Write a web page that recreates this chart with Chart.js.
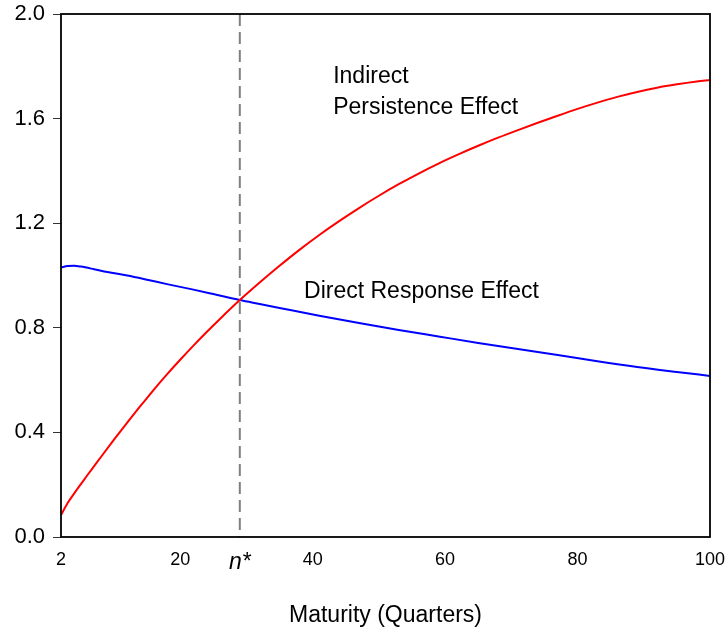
<!DOCTYPE html>
<html>
<head>
<meta charset="utf-8">
<script src="https://cdn.jsdelivr.net/npm/chart.js@4/dist/chart.umd.min.js"></script>
<style>
  html, body { margin: 0; padding: 0; background: #fff; }
  #wrap { width: 727px; height: 637px; }
</style>
</head>
<body>
<div id="wrap"><canvas id="effects-chart"></canvas></div>
<script>
// maturity (quarters) and the two effects
const redX = [2, 3, 4, 5, 6, 7, 8, 10, 12, 14, 16, 18, 20, 22, 24, 26, 29, 32, 35, 38, 41, 44, 47, 50, 53, 56, 59, 62, 65, 68, 71, 74, 77, 80, 83, 86, 89, 92, 95, 98, 100];
const indirectEffect = [0.084, 0.13, 0.167, 0.202, 0.237, 0.271, 0.305, 0.372, 0.437, 0.501, 0.563, 0.622, 0.678, 0.732, 0.784, 0.834, 0.906, 0.973, 1.037, 1.098, 1.155, 1.208, 1.258, 1.305, 1.349, 1.39, 1.428, 1.463, 1.496, 1.527, 1.556, 1.584, 1.611, 1.637, 1.661, 1.683, 1.702, 1.718, 1.731, 1.742, 1.748];
const blueX = [2, 3, 4, 5, 7, 9, 12, 15, 18, 22, 25, 29, 32, 35, 41, 47, 53, 59, 65, 71, 77, 83, 89, 95, 100];
const directEffect = [1.031, 1.036, 1.037, 1.034, 1.024, 1.013, 1.0, 0.984, 0.967, 0.946, 0.929, 0.906, 0.891, 0.876, 0.846, 0.818, 0.792, 0.767, 0.742, 0.719, 0.696, 0.672, 0.65, 0.631, 0.616];

const nStar = 29;
const xTicks = [2, 20, nStar, 40, 60, 80, 100];
const yTicks = [0.0, 0.4, 0.8, 1.2, 1.6, 2.0];

const labels = [
  { text: "Indirect", x: 43.1, y: 1.76 },
  { text: "Persistence Effect", x: 43.1, y: 1.64 },
  { text: "Direct Response Effect", x: 38.7, y: 0.94 },
];

const FONT = "'Liberation Sans', Arial, sans-serif";

function pts(xs, ys) {
  return xs.map((x, i) => ({ x: x, y: ys[i] }));
}

const framePlugin = {
  id: "frame",
  beforeDatasetsDraw(chart) {
    const { ctx, chartArea, scales } = chart;
    const px = scales.x.getPixelForValue(nStar);
    ctx.save();
    ctx.strokeStyle = "#808080";
    ctx.lineWidth = 2;
    ctx.setLineDash([12, 6]);
    ctx.beginPath();
    ctx.moveTo(px, chartArea.top);
    ctx.lineTo(px, chartArea.bottom);
    ctx.stroke();
    ctx.restore();
  },
  afterDatasetsDraw(chart) {
    const { ctx, chartArea, scales } = chart;
    ctx.save();
    ctx.strokeStyle = "#000";
    ctx.lineWidth = 1.8;
    ctx.strokeRect(chartArea.left, chartArea.top, chartArea.right - chartArea.left, chartArea.bottom - chartArea.top);
    ctx.fillStyle = "#000";
    ctx.font = "23px " + FONT;
    ctx.textAlign = "left";
    ctx.textBaseline = "middle";
    for (let l of labels) {
      ctx.fillText(l.text, scales.x.getPixelForValue(l.x), scales.y.getPixelForValue(l.y));
    }
    ctx.restore();
  },
};

new Chart(document.getElementById("effects-chart"), {
  type: "scatter",
  data: {
    datasets: [
      {
        label: "Indirect Persistence Effect",
        data: pts(redX, indirectEffect),
        showLine: true,
        borderColor: "#ff0000",
        borderWidth: 2,
        pointRadius: 0,
        cubicInterpolationMode: "monotone",
      },
      {
        label: "Direct Response Effect",
        data: pts(blueX, directEffect),
        showLine: true,
        borderColor: "#0000ff",
        borderWidth: 2,
        pointRadius: 0,
        cubicInterpolationMode: "monotone",
      },
    ],
  },
  options: {
    responsive: true,
    maintainAspectRatio: false,
    animation: false,
    layout: { padding: { top: 14, right: 17, left: 0, bottom: 0 } },
    plugins: { legend: { display: false }, tooltip: { enabled: false } },
    scales: {
      x: {
        type: "linear",
        min: 2,
        max: 100,
        afterBuildTicks: (s) => { s.ticks = xTicks.map((v) => ({ value: v })); },
        afterFit: (s) => { s.height = 100; s.paddingLeft = 0; s.paddingRight = 0; },
        grid: { drawOnChartArea: false, drawTicks: false },
        border: { display: false },
        ticks: {
          padding: 12,
          maxRotation: 0,
          autoSkip: false,
          color: "#000",
          callback: (v) => (v === nStar ? "n*" : v),
          font: (c) => (c.tick && c.tick.value === nStar
            ? { family: FONT, size: 23, style: "italic" }
            : { family: FONT, size: 18 }),
        },
        title: {
          display: true,
          text: "Maturity (Quarters)",
          color: "#000",
          font: { family: FONT, size: 23 },
          padding: { top: 0, bottom: 8 },
        },
      },
      y: {
        min: 0,
        max: 2,
        afterBuildTicks: (s) => { s.ticks = yTicks.map((v) => ({ value: v })); },
        afterFit: (s) => { s.width = 61; s.paddingTop = 0; s.paddingBottom = 0; },
        grid: { drawOnChartArea: false, drawTicks: true, tickLength: 8, color: "#333" },
        border: { display: false },
        ticks: {
          padding: 8,
          color: "#000",
          font: { family: FONT, size: 22 },
          callback: (v) => v.toFixed(1),
        },
      },
    },
  },
  plugins: [framePlugin],
});
</script>
</body>
</html>
